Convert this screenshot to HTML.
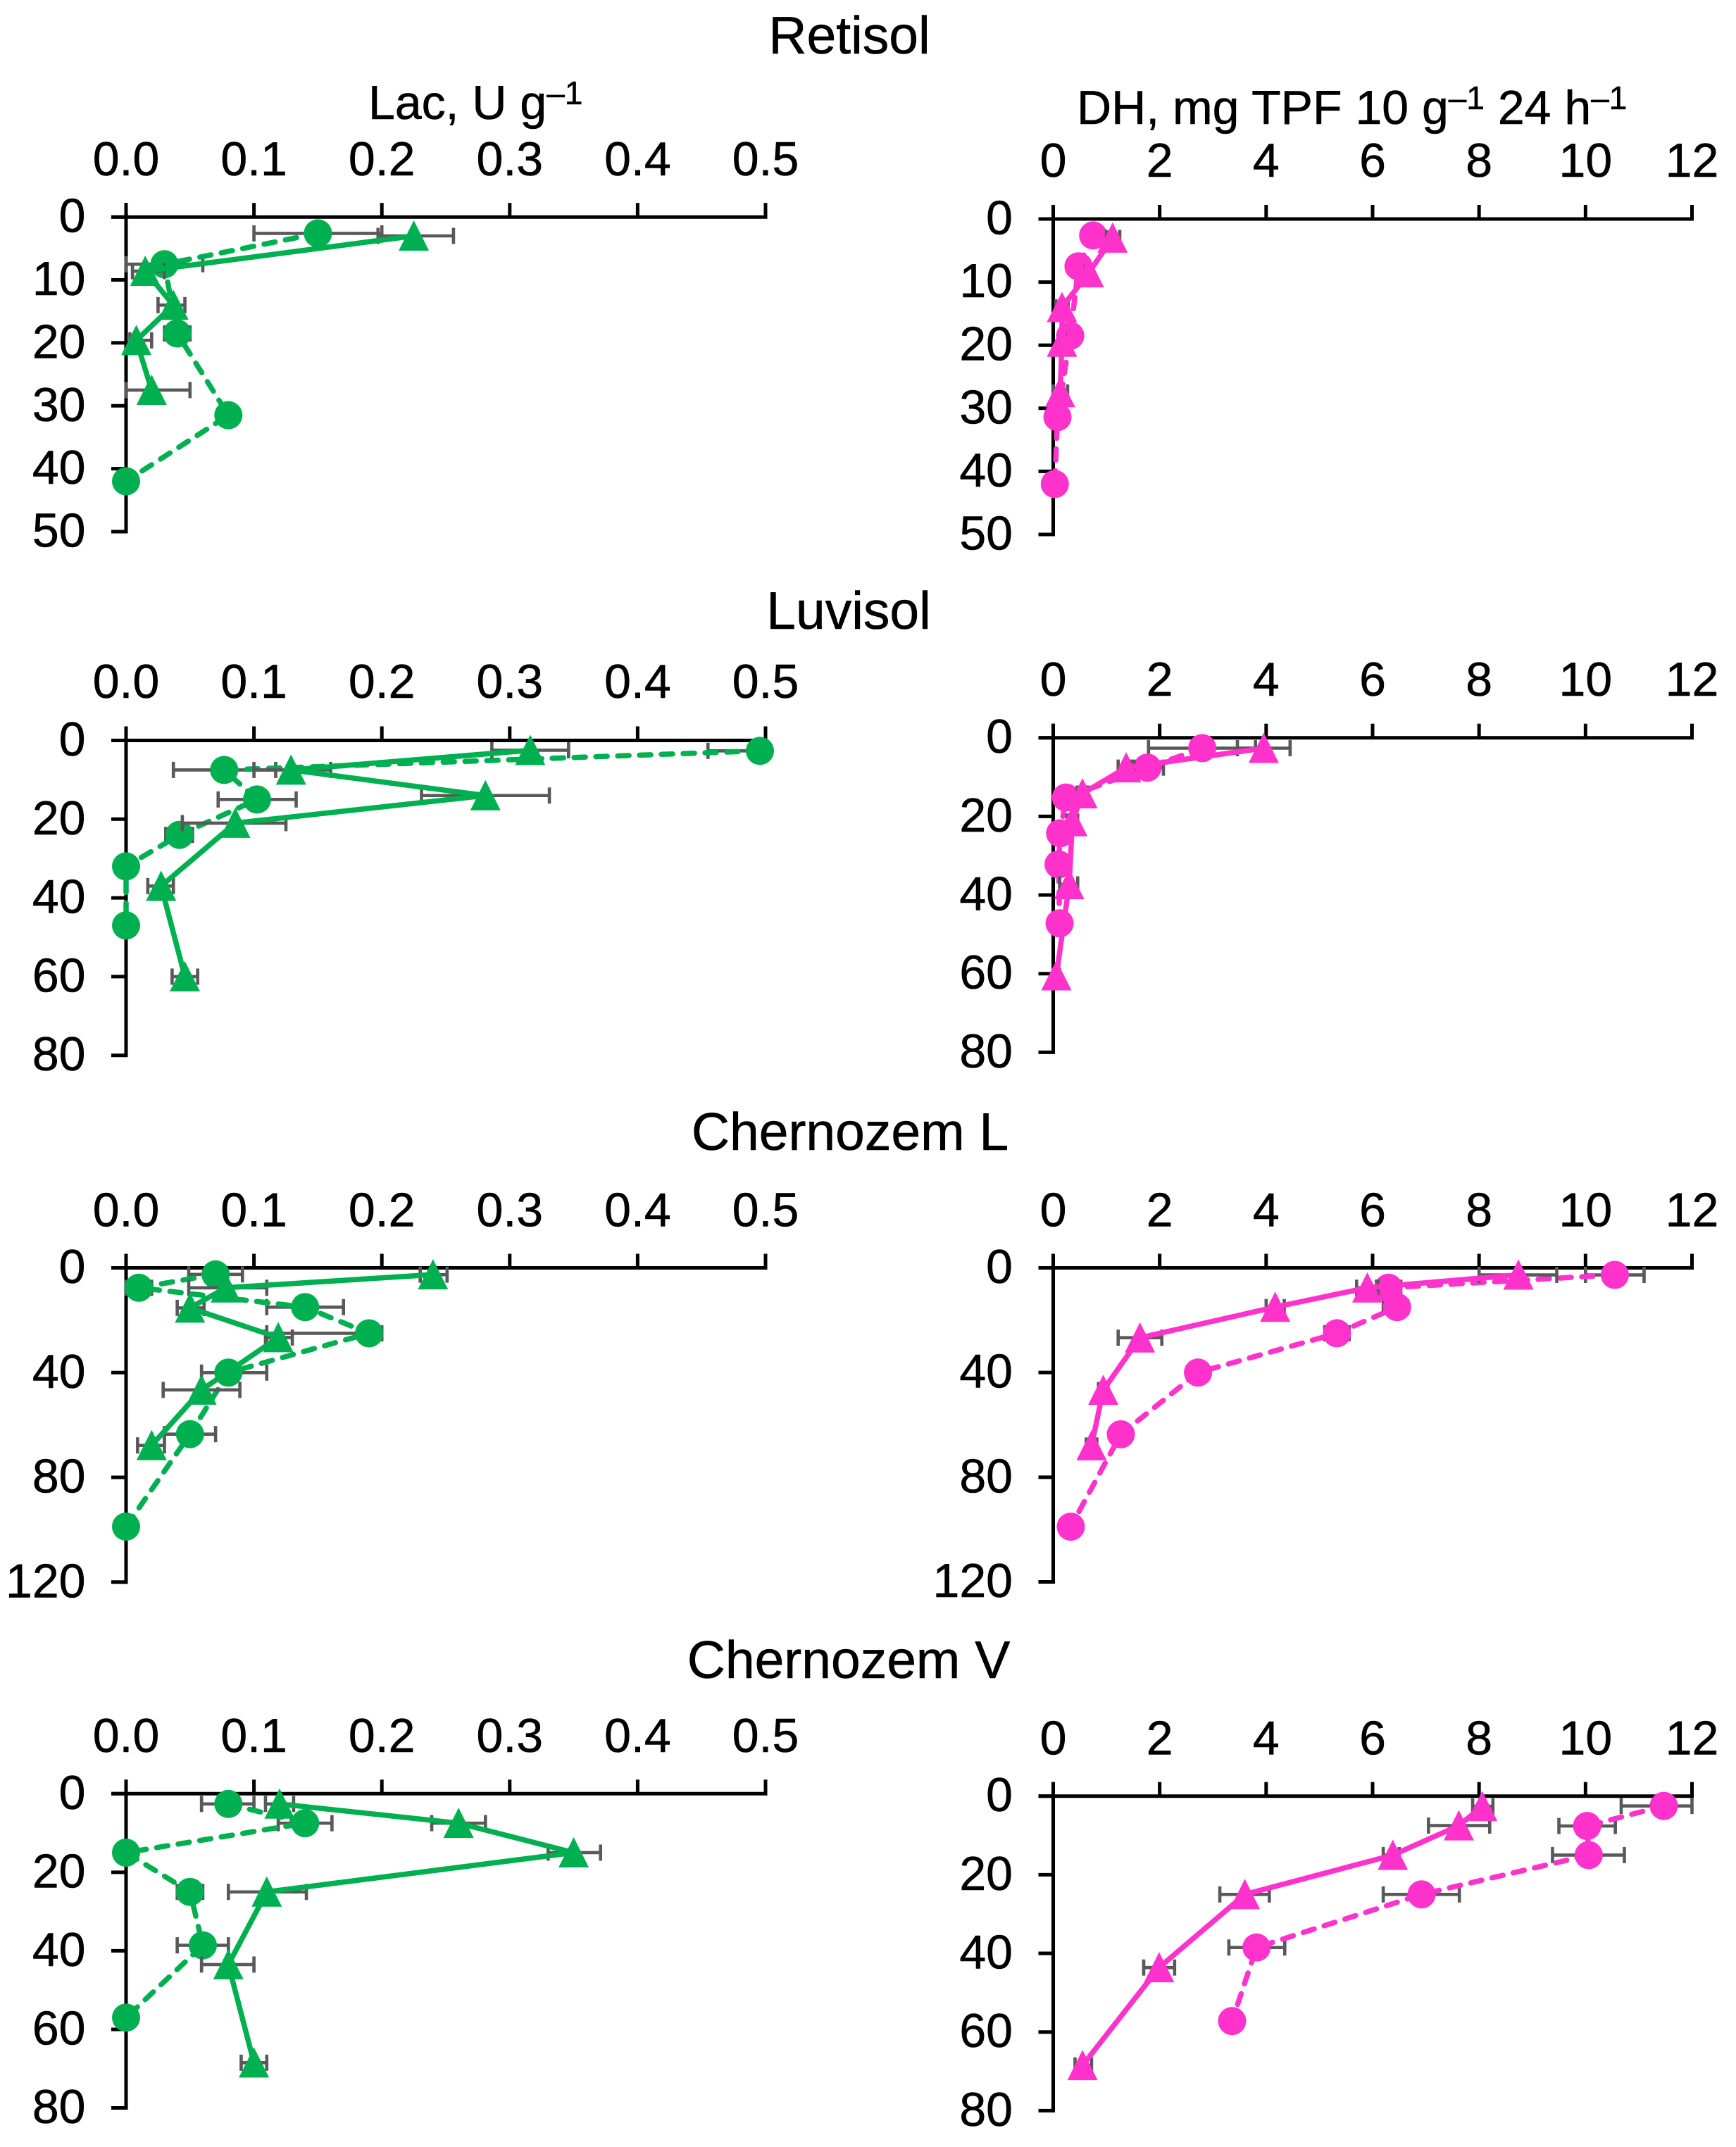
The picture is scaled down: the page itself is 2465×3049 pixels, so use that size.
<!DOCTYPE html>
<html lang="en">
<head>
<meta charset="utf-8">
<title>Lac and DH activity by depth</title>
<style>
html,body{margin:0;padding:0;background:#fff;}
svg{display:block;font-family:"Liberation Sans",Arial,sans-serif;fill:#000;}
text{stroke:#000;stroke-width:.6px;}
</style>
</head>
<body>
<svg id="chart" xmlns="http://www.w3.org/2000/svg" width="2465" height="3049" viewBox="0 0 2465 3049">
<rect width="2465" height="3049" fill="#fff"/>
<text x="1206" y="76" font-size="75" text-anchor="middle">Retisol</text>
<text x="1205" y="893" font-size="75" text-anchor="middle">Luvisol</text>
<text x="1207" y="1633" font-size="75" text-anchor="middle">Chernozem L</text>
<text x="1205" y="2383" font-size="75" text-anchor="middle">Chernozem V</text>
<text x="523" y="169" font-size="68">Lac, U g<tspan font-size="46" dy="-21">–1</tspan></text>
<text x="1529" y="176" font-size="68">DH, mg TPF 10 g<tspan font-size="46" dy="-21">–1</tspan><tspan dy="21"> 24 h</tspan><tspan font-size="46" dy="-21">–1</tspan></text>
</svg>
<script>
// Tick values and labels
const lacTicks = [0, 0.1, 0.2, 0.3, 0.4, 0.5];
const lacTickLabels = ["0.0", "0.1", "0.2", "0.3", "0.4", "0.5"];
const dhTicks = [0, 2, 4, 6, 8, 10, 12];
const dhTickLabels = ["0", "2", "4", "6", "8", "10", "12"];
const depthTicks50 = [0, 10, 20, 30, 40, 50];
const depthTicks80 = [0, 20, 40, 60, 80];
const depthTicks120 = [0, 40, 80, 120];

// Retisol Lac
const retisolLacCircleValue = [0.15, 0.03, 0.04, 0.08, 0.0];
const retisolLacCircleDepth = [2.6, 7.5, 18.5, 31.5, 42];
const retisolLacCircleLow = [0.1, 0.0, 0.03, 0.075, 0.0];
const retisolLacCircleHigh = [0.2, 0.06, 0.05, 0.085, 0.0];
const retisolLacTriValue = [0.225, 0.015, 0.037, 0.008, 0.02];
const retisolLacTriDepth = [3, 8.6, 14, 19.6, 27.5];
const retisolLacTriLow = [0.197, 0.005, 0.025, 0.003, 0.0];
const retisolLacTriHigh = [0.256, 0.03, 0.046, 0.02, 0.05];

// Retisol DH
const retisolDhCircleValue = [0.75, 0.475, 0.32, 0.08, 0.03];
const retisolDhCircleDepth = [2.6, 7.5, 18.5, 31.4, 42];
const retisolDhCircleLow = [0.7, 0.42, 0.27, 0.03, 0.0];
const retisolDhCircleHigh = [0.8, 0.53, 0.37, 0.13, 0.06];
const retisolDhTriValue = [1.115, 0.67, 0.165, 0.165, 0.13];
const retisolDhTriDepth = [3, 8.5, 14, 19.5, 27.5];
const retisolDhTriLow = [1.0, 0.6, 0.05, 0.1, 0.0];
const retisolDhTriHigh = [1.25, 0.75, 0.28, 0.23, 0.27];

// Luvisol Lac
const luvisolLacCircleValue = [0.4956, 0.0767, 0.1024, 0.0418, 0.0, 0.0];
const luvisolLacCircleDepth = [2.65, 7.5, 15, 24, 32, 47];
const luvisolLacCircleLow = [0.455, 0.037, 0.072, 0.031, 0.0, 0.0];
const luvisolLacCircleHigh = [0.5, 0.117, 0.133, 0.052, 0.0, 0.0];
const luvisolLacTriValue = [0.316, 0.129, 0.281, 0.0854, 0.0274, 0.046];
const luvisolLacTriDepth = [2.5, 7.5, 14, 21, 37, 60];
const luvisolLacTriLow = [0.286, 0.1, 0.231, 0.044, 0.017, 0.036];
const luvisolLacTriHigh = [0.346, 0.16, 0.331, 0.125, 0.037, 0.056];

// Luvisol DH
const luvisolDhCircleValue = [2.8, 1.77, 0.24, 0.13, 0.1, 0.12];
const luvisolDhCircleDepth = [2.65, 7.6, 15.2, 24.3, 32.2, 47.2];
const luvisolDhCircleLow = [1.79, 1.47, 0.15, 0.05, 0.02, 0.05];
const luvisolDhCircleHigh = [3.8, 2.07, 0.33, 0.21, 0.18, 0.19];
const luvisolDhTriValue = [3.955, 1.37, 0.55, 0.36, 0.3, 0.06];
const luvisolDhTriDepth = [2.65, 7.6, 14.2, 21.3, 37.3, 60.5];
const luvisolDhTriLow = [3.46, 1.22, 0.45, 0.26, 0.12, 0.0];
const luvisolDhTriHigh = [4.45, 1.52, 0.65, 0.46, 0.46, 0.12];

// Chernozem L Lac
const chernozemLLacCircleValue = [0.07, 0.01, 0.14, 0.19, 0.08, 0.05, 0.0];
const chernozemLLacCircleDepth = [2.5, 7.6, 15, 25, 40, 63.5, 98.8];
const chernozemLLacCircleLow = [0.049, 0.0, 0.11, 0.11, 0.059, 0.03, 0.0];
const chernozemLLacCircleHigh = [0.091, 0.02, 0.17, 0.2, 0.11, 0.07, 0.0];
const chernozemLLacTriValue = [0.24, 0.078, 0.05, 0.119, 0.059, 0.02];
const chernozemLLacTriDepth = [2.6, 7.6, 15.3, 26.6, 46.6, 67.8];
const chernozemLLacTriLow = [0.23, 0.049, 0.04, 0.109, 0.029, 0.009];
const chernozemLLacTriHigh = [0.251, 0.11, 0.061, 0.13, 0.089, 0.03];

// Chernozem L DH
const chernozemLDhCircleValue = [10.55, 6.3, 6.46, 5.33, 2.72, 1.27, 0.33];
const chernozemLDhCircleDepth = [2.7, 7.6, 15, 25, 40, 63.6, 98.9];
const chernozemLDhCircleLow = [10.0, 6.07, 6.2, 5.1, 2.6, 1.15, 0.25];
const chernozemLDhCircleHigh = [11.1, 6.53, 6.66, 5.56, 2.84, 1.39, 0.41];
const chernozemLDhTriValue = [8.74, 5.9, 4.17, 1.63, 0.94, 0.72];
const chernozemLDhTriDepth = [2.7, 7.6, 15, 26.7, 46.7, 67.9];
const chernozemLDhTriLow = [8.0, 5.7, 4.0, 1.22, 0.85, 0.62];
const chernozemLDhTriHigh = [9.46, 6.1, 4.34, 2.04, 1.03, 0.82];

// Chernozem V Lac
const chernozemVLacCircleValue = [0.08, 0.14, 0.0, 0.05, 0.06, 0.0];
const chernozemVLacCircleDepth = [2.6, 7.5, 15, 25, 38.6, 57];
const chernozemVLacCircleLow = [0.059, 0.119, 0.0, 0.04, 0.04, 0.0];
const chernozemVLacCircleHigh = [0.1, 0.161, 0.0, 0.06, 0.08, 0.0];
const chernozemVLacTriValue = [0.12, 0.26, 0.35, 0.11, 0.08, 0.1];
const chernozemVLacTriDepth = [2.6, 7.5, 15, 25, 43.5, 68.5];
const chernozemVLacTriLow = [0.109, 0.239, 0.33, 0.08, 0.059, 0.09];
const chernozemVLacTriHigh = [0.131, 0.281, 0.371, 0.141, 0.1, 0.11];

// Chernozem V DH
const chernozemVDhCircleValue = [11.47, 10.03, 10.06, 6.92, 3.82, 3.36];
const chernozemVDhCircleDepth = [2.5, 7.6, 15, 25, 38.5, 57.2];
const chernozemVDhCircleLow = [10.67, 9.5, 9.38, 6.2, 3.3, 3.3];
const chernozemVDhCircleHigh = [12.0, 10.56, 10.73, 7.63, 4.35, 3.42];
const chernozemVDhTriValue = [8.06, 7.62, 6.38, 3.6, 1.99, 0.55];
const chernozemVDhTriDepth = [2.6, 7.5, 15, 25, 43.6, 68.5];
const chernozemVDhTriLow = [7.88, 7.05, 6.2, 3.13, 1.7, 0.41];
const chernozemVDhTriHigh = [8.26, 8.2, 6.5, 4.06, 2.28, 0.72];

const GREEN = "#00B050";
const MAGENTA = "#FF33CC";
const SVGNS = "http://www.w3.org/2000/svg";
const root = document.getElementById("chart");

function node(parent, tag) {
  const el = document.createElementNS(SVGNS, tag);
  parent.appendChild(el);
  return el;
}
function seg(parent, x1, y1, x2, y2, color, width) {
  const el = node(parent, "line");
  el.setAttribute("x1", x1);
  el.setAttribute("y1", y1);
  el.setAttribute("x2", x2);
  el.setAttribute("y2", y2);
  el.setAttribute("stroke", color);
  el.setAttribute("stroke-width", width);
  return el;
}
function drawSeries(g, scaleX, scaleY, color, kind, values, depths, lows, highs, prefix) {
  const errs = node(g, "g");
  
  
  values.forEach(function (v, i) {
    const y = scaleY(depths[i]);
    const a = scaleX(lows[i]);
    const b = scaleX(highs[i]);
    if (b - a < 1) return;
    const bar = seg(errs, a, y, b, y, "#595959", 4.6);
    
    
    const capA = seg(errs, a, y - 11.5, a, y + 11.5, "#595959", 4.6);
    
    
    const capB = seg(errs, b, y - 11.5, b, y + 11.5, "#595959", 4.6);
    
    
  });
  const line = node(g, "polyline");
  line.setAttribute("points", values.map(function (v, i) { return scaleX(v) + "," + scaleY(depths[i]); }).join(" "));
  line.setAttribute("fill", "none");
  line.setAttribute("stroke", color);
  line.setAttribute("stroke-width", 7.5);
  line.setAttribute("stroke-linejoin", "round");
  if (kind === "circle") {
    line.setAttribute("stroke-dasharray", "16 15");
    line.setAttribute("stroke-linecap", "round");
  }
  
  
  values.forEach(function (v, i) {
    const x = scaleX(v);
    const y = scaleY(depths[i]);
    let m;
    if (kind === "circle") {
      m = node(g, "circle");
      m.setAttribute("cx", x);
      m.setAttribute("cy", y);
      m.setAttribute("r", 20);
    } else {
      m = node(g, "polygon");
      m.setAttribute("points", x + "," + (y - 22) + " " + (x + 21.5) + "," + (y + 21) + " " + (x - 21.5) + "," + (y + 21));
    }
    m.setAttribute("fill", color);
    
    
  });
}
function drawPanel(name, geo, xTicks, xLabels, xMax, yTicks, yMax, color, circle, tri) {
  const g = node(root, "g");
  
  
  const scaleX = function (v) { return geo.left + (v / xMax) * (geo.right - geo.left); };
  const scaleY = function (d) { return geo.top + (d / yMax) * (geo.bottom - geo.top); };
  const xAxis = seg(g, geo.left - 21, geo.top, geo.right + 2.5, geo.top, "#000", 5);
  
  
  const yAxis = seg(g, geo.left, geo.top - 20, geo.left, geo.bottom + 2.5, "#000", 5);
  
  
  xTicks.forEach(function (t, i) {
    const x = scaleX(t);
    const tick = seg(g, x, geo.top - 20, x, geo.top, "#000", 5);
    
    
    const label = node(g, "text");
    label.setAttribute("x", x);
    label.setAttribute("y", geo.labelY);
    label.setAttribute("font-size", 68);
    label.setAttribute("text-anchor", "middle");
    label.textContent = xLabels[i];
    
    
  });
  yTicks.forEach(function (t) {
    const y = scaleY(t);
    const tick = seg(g, geo.left - 21, y, geo.left, y, "#000", 5);
    
    
    const label = node(g, "text");
    label.setAttribute("x", geo.left - 57.5);
    label.setAttribute("y", y + 21.5);
    label.setAttribute("font-size", 68);
    label.setAttribute("text-anchor", "end");
    label.textContent = String(t);
    
    
  });
  drawSeries(g, scaleX, scaleY, color, "circle", circle[0], circle[1], circle[2], circle[3], name + "-circle");
  drawSeries(g, scaleX, scaleY, color, "triangle", tri[0], tri[1], tri[2], tri[3], name + "-triangle");
}

const LAC_L = 179, LAC_R = 1087, DH_L = 1495.5, DH_R = 2402.5;

drawPanel("retisol-lac", {left: LAC_L, right: LAC_R, top: 308.2, bottom: 755, labelY: 249}, lacTicks, lacTickLabels, 0.5, depthTicks50, 50, GREEN,
  [retisolLacCircleValue, retisolLacCircleDepth, retisolLacCircleLow, retisolLacCircleHigh],
  [retisolLacTriValue, retisolLacTriDepth, retisolLacTriLow, retisolLacTriHigh]);
drawPanel("retisol-dh", {left: DH_L, right: DH_R, top: 311, bottom: 759, labelY: 251}, dhTicks, dhTickLabels, 12, depthTicks50, 50, MAGENTA,
  [retisolDhCircleValue, retisolDhCircleDepth, retisolDhCircleLow, retisolDhCircleHigh],
  [retisolDhTriValue, retisolDhTriDepth, retisolDhTriLow, retisolDhTriHigh]);
drawPanel("luvisol-lac", {left: LAC_L, right: LAC_R, top: 1051.5, bottom: 1498.7, labelY: 991}, lacTicks, lacTickLabels, 0.5, depthTicks80, 80, GREEN,
  [luvisolLacCircleValue, luvisolLacCircleDepth, luvisolLacCircleLow, luvisolLacCircleHigh],
  [luvisolLacTriValue, luvisolLacTriDepth, luvisolLacTriLow, luvisolLacTriHigh]);
drawPanel("luvisol-dh", {left: DH_L, right: DH_R, top: 1047.7, bottom: 1494.4, labelY: 988}, dhTicks, dhTickLabels, 12, depthTicks80, 80, MAGENTA,
  [luvisolDhCircleValue, luvisolDhCircleDepth, luvisolDhCircleLow, luvisolDhCircleHigh],
  [luvisolDhTriValue, luvisolDhTriDepth, luvisolDhTriLow, luvisolDhTriHigh]);
drawPanel("chernozem-l-lac", {left: LAC_L, right: LAC_R, top: 1800.5, bottom: 2246.8, labelY: 1741.7}, lacTicks, lacTickLabels, 0.5, depthTicks120, 120, GREEN,
  [chernozemLLacCircleValue, chernozemLLacCircleDepth, chernozemLLacCircleLow, chernozemLLacCircleHigh],
  [chernozemLLacTriValue, chernozemLLacTriDepth, chernozemLLacTriLow, chernozemLLacTriHigh]);
drawPanel("chernozem-l-dh", {left: DH_L, right: DH_R, top: 1800.5, bottom: 2246.5, labelY: 1741.7}, dhTicks, dhTickLabels, 12, depthTicks120, 120, MAGENTA,
  [chernozemLDhCircleValue, chernozemLDhCircleDepth, chernozemLDhCircleLow, chernozemLDhCircleHigh],
  [chernozemLDhTriValue, chernozemLDhTriDepth, chernozemLDhTriLow, chernozemLDhTriHigh]);
drawPanel("chernozem-v-lac", {left: LAC_L, right: LAC_R, top: 2547.3, bottom: 2993.5, labelY: 2488}, lacTicks, lacTickLabels, 0.5, depthTicks80, 80, GREEN,
  [chernozemVLacCircleValue, chernozemVLacCircleDepth, chernozemVLacCircleLow, chernozemVLacCircleHigh],
  [chernozemVLacTriValue, chernozemVLacTriDepth, chernozemVLacTriLow, chernozemVLacTriHigh]);
drawPanel("chernozem-v-dh", {left: DH_L, right: DH_R, top: 2550.7, bottom: 2997.4, labelY: 2491.5}, dhTicks, dhTickLabels, 12, depthTicks80, 80, MAGENTA,
  [chernozemVDhCircleValue, chernozemVDhCircleDepth, chernozemVDhCircleLow, chernozemVDhCircleHigh],
  [chernozemVDhTriValue, chernozemVDhTriDepth, chernozemVDhTriLow, chernozemVDhTriHigh]);
</script>
</body>
</html>
